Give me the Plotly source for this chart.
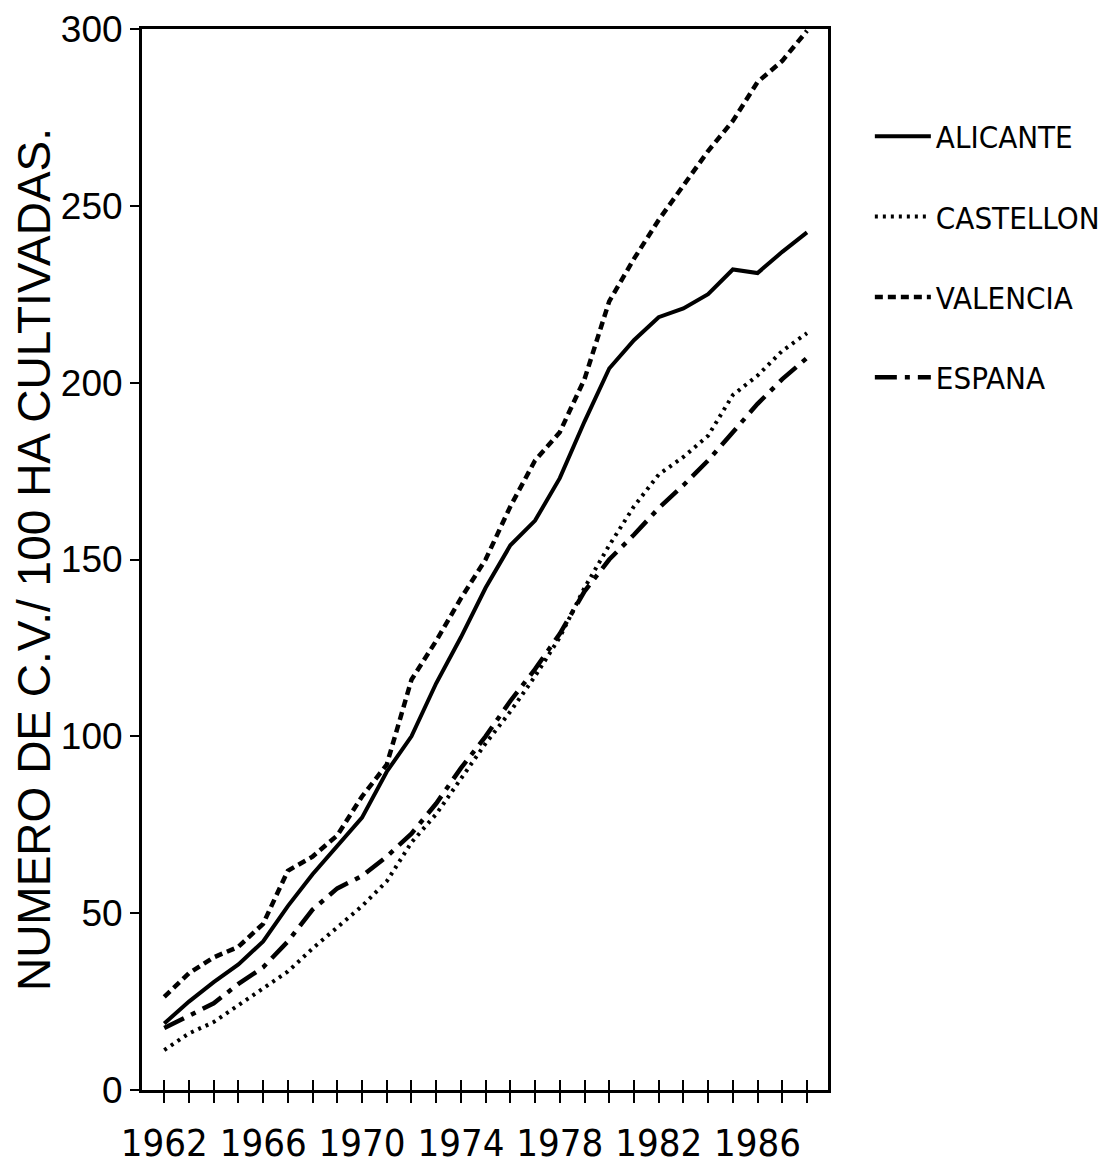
import plotly.graph_objects as go

years = list(range(1962, 1989))
alicante = [18.8, 25, 30.5, 35.5, 42, 52, 61, 69, 77, 90, 100, 115, 128, 142, 154, 161,
            173, 189, 204, 212, 218.5, 221, 225, 232, 231, 237, 242.5]
castellon = [11.3, 16, 19.2, 24, 29, 33.5, 40, 46, 52, 59, 70, 78, 88, 98, 107, 117,
             128, 142, 154, 165, 174, 179, 185, 196.5, 202, 209, 214]
valencia = [26.3, 33, 37.5, 40.5, 47, 62, 66, 72, 83, 92, 116, 127, 139, 150, 165, 178,
            186, 201, 223, 235, 246, 256, 265.5, 274, 285, 291, 299.5]
espana = [17.5, 21, 24.5, 30, 34.7, 42, 51, 57, 60.5, 66, 72.5, 81, 91, 100, 110, 119,
          129, 141, 150, 157, 164.5, 171, 178, 186, 194, 201, 207]

series_names = ["ALICANTE", "CASTELLON", "VALENCIA", "ESPANA"]
x_label_years = [1962, 1966, 1970, 1974, 1978, 1982, 1986]
y_ticks = [0, 50, 100, 150, 200, 250, 300]
y_title = "NUMERO DE C.V./ 100 HA CULTIVADAS."

NARROW = "Liberation Sans Narrow, DejaVu Sans Condensed, Arial Narrow, sans-serif"
REG = "Liberation Sans, Arial, sans-serif"

styles = [
    dict(color="black", width=4, dash="solid"),
    dict(color="black", width=4, dash="3px,5px"),
    dict(color="black", width=4.5, dash="8px,5px"),
    dict(color="black", width=4.5, dash="22px,8px,5px,8px"),
]

fig = go.Figure()
for i, (name, vals) in enumerate(zip(series_names, [alicante, castellon, valencia, espana])):
    fig.add_trace(go.Scatter(x=years, y=vals, mode="lines", name=name,
                             line=styles[i], legendgroup=name, hoverinfo="skip"))

# invisible trace hosting the overlay axis that draws the inner half of the x ticks
fig.add_trace(go.Scatter(x=years, y=alicante, mode="lines", xaxis="x2",
                         line=dict(color="rgba(0,0,0,0)"), showlegend=False, hoverinfo="skip"))

ticktext = [str(y) if y in x_label_years else "" for y in years]
xr = [1961.1, 1988.85]

fig.update_layout(
    width=1109, height=1156,
    margin=dict(l=134, r=287, t=21, b=74),
    paper_bgcolor="white", plot_bgcolor="white",
    showlegend=True,
    legend=dict(x=1.061, xanchor="left", y=0.924, yanchor="top", itemwidth=56,
                font=dict(family=NARROW, size=31, color="black"),
                tracegroupgap=37, bgcolor="rgba(0,0,0,0)"),
    xaxis=dict(range=xr, tickmode="array", tickvals=years, ticktext=ticktext,
               tickangle=0, ticklabeloverflow="allow", ticklabelstandoff=7,
               ticks="outside", ticklen=10, tickwidth=2, tickcolor="black",
               showline=True, linewidth=3, linecolor="black", mirror=True,
               showgrid=False, zeroline=False, automargin=False,
               tickfont=dict(family=NARROW, size=38, color="black")),
    xaxis2=dict(range=xr, overlaying="x", anchor="y", side="bottom",
                tickmode="array", tickvals=years, ticks="inside", ticklen=10,
                tickwidth=2, tickcolor="black", showticklabels=False,
                showline=False, showgrid=False, zeroline=False),
    yaxis=dict(range=[0, 300], tickmode="array", tickvals=y_ticks,
               ticks="outside", ticklen=9, tickwidth=2, tickcolor="black",
               ticklabeloverflow="allow",
               showline=True, linewidth=3, linecolor="black", mirror=True,
               showgrid=False, zeroline=False, automargin=False,
               tickfont=dict(family=REG, size=37, color="black"),
               title=dict(text=y_title, font=dict(family=REG, size=46, color="black"),
                          standoff=19)),
)

fig.write_html("out.html")
